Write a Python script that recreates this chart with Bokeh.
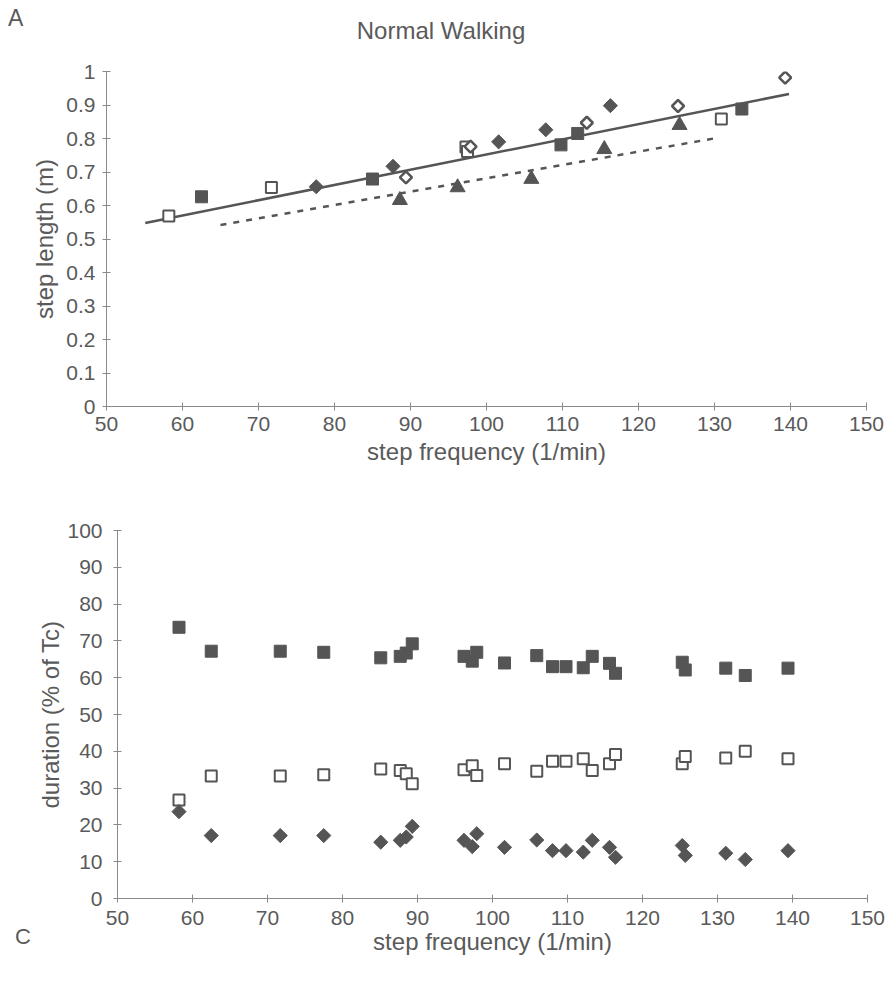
from bokeh.plotting import figure
from bokeh.layouts import column, row
from bokeh.models import FixedTicker, CustomJSTickFormatter, Div
from bokeh.embed import file_html
from bokeh.resources import INLINE
import math

# ---------------- Panel A: step length vs step frequency ----------------
fd_x = [77.6, 87.7, 101.6, 107.8, 116.3]          # filled diamonds
fd_y = [0.656, 0.717, 0.790, 0.826, 0.898]
od_x = [89.4, 97.9, 113.2, 125.2, 139.3]          # open diamonds
od_y = [0.684, 0.776, 0.847, 0.897, 0.982]
fs_x = [62.5, 85.0, 109.8, 112.0, 133.6]          # filled squares
fs_y = [0.626, 0.679, 0.781, 0.815, 0.888]
os_x = [58.2, 71.7, 97.3, 97.5, 130.9]            # open squares
os_y = [0.569, 0.654, 0.775, 0.761, 0.858]
ft_x = [88.6, 96.2, 105.9, 115.5, 125.4]          # filled triangles
ft_y = [0.616, 0.654, 0.679, 0.768, 0.840]
fit_solid_x = [55.1, 139.8]
fit_solid_y = [0.548, 0.933]
fit_dash_x = [65.0, 129.9]
fit_dash_y = [0.542, 0.800]

top_xticks = [50, 60, 70, 80, 90, 100, 110, 120, 130, 140, 150]
top_yticks = [0, 0.1, 0.2, 0.3, 0.4, 0.5, 0.6, 0.7, 0.8, 0.9, 1]

# ---------------- Panel C: durations vs step frequency ----------------
bot_freq = [58.2, 62.5, 71.7, 77.5, 85.1, 87.7, 88.5, 89.3, 96.2, 97.3, 97.9, 101.6,
            105.9, 108.0, 109.8, 112.1, 113.3, 115.6, 116.4, 125.3, 125.7, 131.1, 133.7, 139.4]
stance = [73.7, 67.2, 67.2, 66.9, 65.4, 65.8, 66.7, 69.2, 65.8, 64.5, 66.9, 64.0,
          66.0, 63.0, 63.0, 62.7, 65.8, 63.9, 61.2, 64.2, 62.1, 62.6, 60.6, 62.6]
swing = [26.8, 33.3, 33.3, 33.6, 35.2, 34.8, 33.9, 31.2, 35.0, 36.1, 33.4, 36.6,
         34.6, 37.3, 37.3, 38.0, 34.8, 36.6, 39.1, 36.6, 38.6, 38.2, 40.0, 38.0]
double_support = [23.6, 17.1, 17.1, 17.1, 15.3, 15.8, 16.7, 19.6, 15.8, 14.1, 17.6, 13.9,
                  15.9, 13.0, 13.0, 12.6, 15.8, 13.9, 11.2, 14.4, 11.7, 12.3, 10.6, 13.0]

bot_xticks = [50, 60, 70, 80, 90, 100, 110, 120, 130, 140, 150]
bot_yticks = [0, 10, 20, 30, 40, 50, 60, 70, 80, 90, 100]

panel_top_letter = "A"
panel_bottom_letter = "C"
title_text = "Normal Walking"

FONT = "Liberation Sans"
TXT = "#5a5a5a"
MK = "#555555"
AX = "#8a8a8a"


def blank(p):
    p.grid.visible = False
    p.outline_line_color = None
    p.background_fill_color = "white"
    p.border_fill_color = "white"


def style(p, xticks, yticks, ystandoff, xstandoff, ylab_standoff, xlab_standoff):
    blank(p)
    for ax in (p.xaxis[0], p.yaxis[0]):
        ax.axis_line_color = AX
        ax.major_tick_line_color = AX
        ax.minor_tick_line_color = None
        ax.major_tick_in = 4
        ax.major_tick_out = 4
        ax.major_label_text_font = FONT
        ax.major_label_text_font_size = "21px"
        ax.major_label_text_color = TXT
        ax.axis_label_text_font = FONT
        ax.axis_label_text_font_size = "24px"
        ax.axis_label_text_font_style = "normal"
        ax.axis_label_text_color = TXT
    p.xaxis[0].ticker = FixedTicker(ticks=xticks)
    p.yaxis[0].ticker = FixedTicker(ticks=yticks)
    p.yaxis[0].major_label_standoff = ystandoff
    p.xaxis[0].major_label_standoff = xstandoff
    p.yaxis[0].axis_label_standoff = ylab_standoff
    p.xaxis[0].axis_label_standoff = xlab_standoff


span = ("position:absolute;font-family:'Liberation Sans',Arial,sans-serif;"
        "color:%s;line-height:1;white-space:nowrap;margin:0;padding:0;" % TXT)

# ---------------- header (panel letter A + title) ----------------
hdr = Div(width=892, height=48, margin=0,
          text=('<div style="position:relative;width:892px;height:48px;margin:0;padding:0;">'
                '<span style="%sleft:8px;top:7px;font-size:23px;">%s</span>'
                '<span style="%sleft:441px;top:19px;font-size:24px;transform:translateX(-50%%);">%s</span>'
                '</div>') % (span, panel_top_letter, span, title_text))

# ---------------- figure A ----------------
p1 = figure(width=892, height=422, x_range=(50, 150), y_range=(0, 1),
            output_backend="svg", toolbar_location=None,
            min_border_left=106, min_border_right=26,
            min_border_top=23, min_border_bottom=64)
style(p1, top_xticks, top_yticks, 7, 6, 5, 4)
p1.yaxis[0].formatter = CustomJSTickFormatter(
    code="return String(Math.round(tick*10)/10);")
p1.xaxis.axis_label = "step frequency (1/min)"
p1.yaxis.axis_label = "step length (m)"

p1.line(fit_solid_x, fit_solid_y, line_color=MK, line_width=2.5)
p1.line(fit_dash_x, fit_dash_y, line_color=MK, line_width=2.5, line_dash="6 7")

rot = math.pi / 4
p1.scatter(fs_x, fs_y, marker="square", size=12, fill_color=MK, line_color=MK)
p1.scatter(os_x, os_y, marker="square", size=11, fill_color="white",
           line_color=MK, line_width=2)
p1.scatter(fd_x, fd_y, marker="square", size=10, angle=rot, fill_color=MK, line_color=MK)
p1.scatter(od_x, od_y, marker="square", size=8.5, angle=rot, fill_color="white",
           line_color=MK, line_width=2.5)
p1.scatter(ft_x, ft_y, marker="triangle", size=15, fill_color=MK, line_color=MK)

# ---------------- panel letter C column ----------------
cdiv = Div(width=30, height=517, margin=0,
           text=('<div style="position:relative;width:30px;height:517px;margin:0;padding:0;">'
                 '<span style="%sleft:15px;top:456px;font-size:22px;">%s</span></div>')
           % (span, panel_bottom_letter))

# ---------------- figure C ----------------
p2 = figure(width=862, height=517, x_range=(50, 150), y_range=(0, 100),
            output_backend="svg", toolbar_location=None,
            min_border_left=87, min_border_right=25,
            min_border_top=60, min_border_bottom=89)
style(p2, bot_xticks, bot_yticks, 11, 8, 0, 0)
p2.yaxis[0].formatter = CustomJSTickFormatter(code="return String(Math.round(tick));")
p2.xaxis.axis_label = "step frequency (1/min)"
p2.yaxis.axis_label = "duration (% of Tc)"

p2.scatter(bot_freq, stance, marker="square", size=12, fill_color=MK, line_color=MK)
p2.scatter(bot_freq, swing, marker="square", size=11, fill_color="white",
           line_color=MK, line_width=2)
p2.scatter(bot_freq, double_support, marker="square", size=10, angle=rot,
           fill_color=MK, line_color=MK)

layout = column(hdr, p1, row(cdiv, p2, spacing=0), spacing=0)
open("out.html", "w").write(file_html(layout, INLINE))
